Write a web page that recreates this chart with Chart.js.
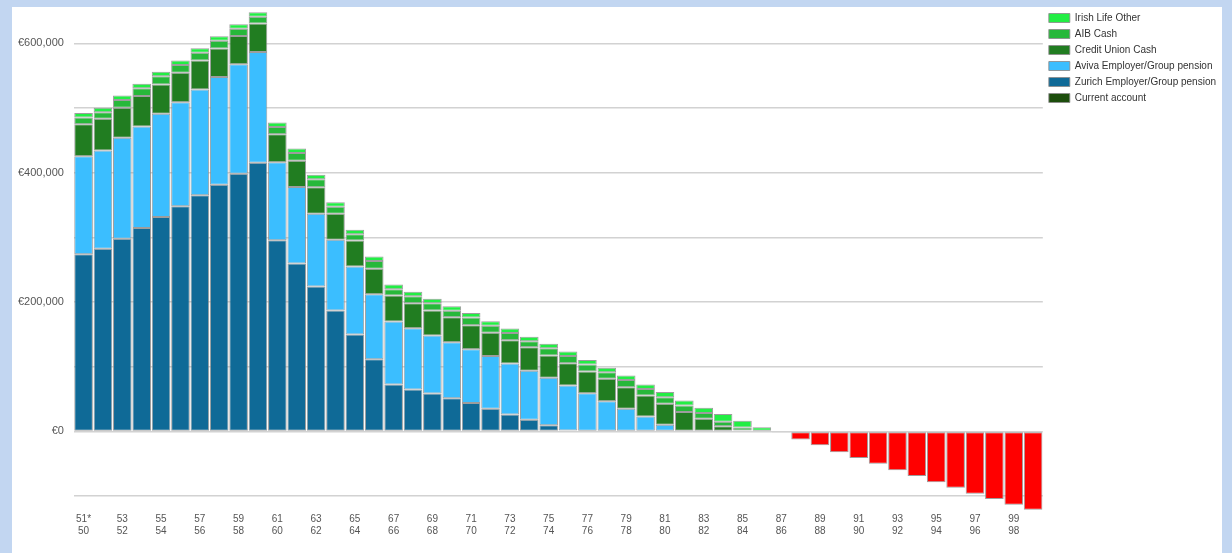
<html>
  <head>
    <script src="https://cdn.jsdelivr.net/npm/chart.js@4.4.0/dist/chart.umd.min.js"></script>
    <style>
      body { margin: 0; background: #c2d6f1; overflow: hidden; }
      #panel { position: absolute; left: 12px; top: 7px; width: 1210px; height: 546px; background: #fff; }
    </style>
  </head>
  <body>
    <div id="panel"><canvas id="myChart" width="1210" height="546"></canvas></div>
  </body>
  <script>
    // ages along the bottom: own age (top line) and partner age (bottom line)
    const ownAges = ['51*', '52', '53', '54', '55', '56', '57', '58', '59', '60',
      '61', '62', '63', '64', '65', '66', '67', '68', '69', '70',
      '71', '72', '73', '74', '75', '76', '77', '78', '79', '80',
      '81', '82', '83', '84', '85', '86', '87', '88', '89', '90',
      '91', '92', '93', '94', '95', '96', '97', '98', '99', '100'];
    const partnerAges = ['50', '51', '52', '53', '54', '55', '56', '57', '58', '59',
      '60', '61', '62', '63', '64', '65', '66', '67', '68', '69',
      '70', '71', '72', '73', '74', '75', '76', '77', '78', '79',
      '80', '81', '82', '83', '84', '85', '86', '87', '88', '89',
      '90', '91', '92', '93', '94', '95', '96', '97', '98', '99'];

    // gridlines every 100k, labels only on the 200k ones
    const gridValues = [-100000, 0, 100000, 200000, 300000, 400000, 500000, 600000];
    const yTop = 650000;
    const yBottom = -123000;

    const currentAccount = [0, 0, 0, 0, 0, 0, 0, 0, 0, 0, 0, 0, 0, 0, 0, 0, 0, 0, 0, 0, 0, 0, 0, 0, 0,
      0, 0, 0, 0, 0, 0, 0, 0, 0, 0, 0, 0, 0, 0, 0, 0, 0, 0, 0, 0, 0, 0, 0, 0, 0];
    const zurich = [274000, 282500, 298000, 314500, 331500, 348000, 365000, 381500, 398500, 415500,
      295500, 259500, 224000, 187000, 150000, 111500, 72500, 65000, 58500, 51500,
      44000, 35000, 26000, 18000, 9500, 1500, 0, 0, 0, 0,
      0, 0, 0, 0, 0, 0, 0, 0, 0, 0, 0, 0, 0, 0, 0, 0, 0, 0, 0, 0];
    const aviva = [151500, 152000, 156000, 157000, 159500, 161000, 163500, 166500, 169000, 171000,
      120500, 118500, 112500, 109500, 105000, 100500, 97500, 94500, 90000, 86500,
      83000, 81500, 79000, 76000, 73500, 69500, 59000, 46500, 35000, 23000,
      10500, 0, 0, 0, 0, 0, 0, 0, 0, 0, 0, 0, 0, 0, 0, 0, 0, 0, 0, 0];
    const creditUnion = [49500, 49000, 46500, 47000, 45500, 45500, 45000, 44000, 44000, 44000,
      43500, 40500, 41000, 40000, 40000, 39500, 40000, 38500, 38500, 38500,
      37000, 36000, 36000, 36000, 34500, 34500, 33500, 35000, 33500, 32500,
      32500, 30000, 19500, 8000, 1500, 0, 0, 0, 0, 0, 0, 0, 0, 0, 0, 0, 0, 0, 0, 0];
    const aibCash = [10500, 10000, 12000, 12000, 12500, 12000, 12000, 12000, 11000, 10500,
      11000, 12000, 12500, 11000, 10000, 12000, 10000, 11000, 11000, 10000,
      12000, 11000, 11000, 9500, 11000, 11000, 11000, 10000, 11000, 10000,
      10000, 10000, 9000, 7000, 4500, 0, 0, 0, 0, 0, 0, 0, 0, 0, 0, 0, 0, 0, 0, 0];
    const irishLife = [7000, 7000, 7000, 7000, 7000, 7000, 7000, 7000, 7000, 7000,
      7000, 7000, 7000, 7000, 7000, 7000, 7000, 7000, 7000, 7000,
      7000, 7000, 7000, 7000, 7000, 7000, 7000, 7000, 7000, 7000,
      8000, 8000, 8000, 12000, 10500, 6500, 0, 0, 0, 0, 0, 0, 0, 0, 0, 0, 0, 0, 0, 0];
    const shortfall = [0, 0, 0, 0, 0, 0, 0, 0, 0, 0, 0, 0, 0, 0, 0, 0, 0, 0, 0, 0,
      0, 0, 0, 0, 0, 0, 0, 0, 0, 0, 0, 0, 0, 0, 0, 0,
      -1000, -12500, -21500, -32000, -41000, -50000, -60000, -69000, -78500, -87000,
      -96500, -104500, -113500, -121000];

    const bar = (label, data, color) => ({
      label: label,
      data: data,
      backgroundColor: color,
      borderColor: 'rgba(140, 140, 140, 0.85)',
      borderWidth: 1,
      borderSkipped: false,
      barPercentage: 0.96,
      categoryPercentage: 1
    });

    var ctx = document.getElementById('myChart').getContext('2d');
    var myChart = new Chart(ctx, {
      type: 'bar',
      data: {
        labels: partnerAges,
        datasets: [
          bar('Current account', currentAccount, '#1c4d0c'),
          bar('Zurich Employer/Group pension', zurich, '#0f6a97'),
          bar('Aviva Employer/Group pension', aviva, '#3bbeff'),
          bar('Credit Union Cash', creditUnion, '#217d21'),
          bar('AIB Cash', aibCash, '#27b83a'),
          bar('Irish Life Other', irishLife, '#22ee44'),
          bar('Shortfall', shortfall, '#ff0000')
        ]
      },
      options: {
        responsive: false,
        animation: false,
        layout: { padding: { left: 2, right: -4, top: 0, bottom: 14 } },
        plugins: {
          tooltip: { enabled: false },
          legend: {
            position: 'right',
            align: 'start',
            reverse: true,
            labels: {
              boxWidth: 21,
              boxHeight: 9,
              padding: 6,
              color: '#333',
              font: { family: 'Liberation Sans, Arial', size: 10 },
              filter: item => item.text !== 'Shortfall'
            }
          }
        },
        scales: {
          x: {
            stacked: true,
            grid: { display: false, drawTicks: false },
            border: { display: false },
            ticks: {
              autoSkip: false,
              maxRotation: 0,
              padding: 2,
              color: '#555',
              font: { family: 'Liberation Sans, Arial', size: 10 },
              callback: (v, i) => i % 2 === 0 ? [ownAges[i], partnerAges[i]] : ''
            }
          },
          y: {
            stacked: true,
            min: yBottom,
            max: yTop,
            afterBuildTicks: axis => {
              axis.ticks = gridValues.concat([yTop]).map(v => ({ value: v }));
            },
            border: { display: false },
            grid: {
              drawTicks: true,
              tickLength: 6,
              tickColor: 'rgba(0,0,0,0)',
              lineWidth: 1.5,
              color: c => (c.tick && c.tick.value === yTop) ? 'rgba(0,0,0,0)' : '#d2d2d2'
            },
            ticks: {
              padding: 4,
              color: '#555',
              font: { family: 'Liberation Sans, Arial', size: 11 },
              callback: v => {
                if (v === yTop) return [];
                return (v >= 0 && v % 200000 === 0) ? '€' + v.toLocaleString('en-US') : '';
              }
            }
          }
        }
      }
    });
  </script>
</html>
